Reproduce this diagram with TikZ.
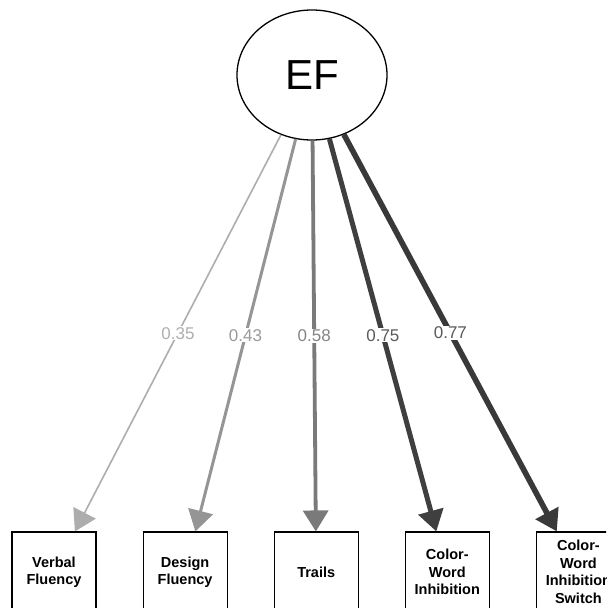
\documentclass[tikz,border=0pt]{standalone}
\usepackage{fontspec}
\setmainfont{Liberation Sans}
\usetikzlibrary{positioning, arrows.meta, shapes.geometric}

\definecolor{lvA}{HTML}{ADADAD}
\definecolor{lvB}{HTML}{959595}
\definecolor{lvC}{HTML}{7A7A7A}
\definecolor{lvD}{HTML}{3F3F3F}
\definecolor{lvE}{HTML}{393939}
\definecolor{txA}{HTML}{AFAFAF}
\definecolor{txB}{HTML}{9A9A9A}
\definecolor{txC}{HTML}{858585}
\definecolor{txD}{HTML}{5A5A5A}
\definecolor{txE}{HTML}{5A5A5A}

\begin{document}
\begin{tikzpicture}[
    x=1pt, y=-1pt,
    node distance=0pt and 46pt,
    latent/.style={
      draw, ellipse, line width=1.3pt, minimum width=150pt, minimum height=130pt,
      inner sep=0pt, font=\fontsize{42}{46}\selectfont
    },
    indicator/.style={
      draw, line width=1.1pt, minimum width=84pt, minimum height=80pt,
      inner sep=0pt, align=center, font=\fontsize{14.5}{17.5}\selectfont\bfseries
    },
    loading/.style={-{Triangle[length=21pt, width=25pt]}},
    weight/.style={fill=white, inner sep=1pt, pos=0.5, font=\fontsize{17}{19}\selectfont}
]
\clip (0,0) rectangle (606,608);

% Latent factor
\node[latent] (ef) at (312,75) {EF};

% Indicators
\node[indicator] (vf) at (54,572) {Verbal\\Fluency};
\node[indicator, right=of vf] (df) {Design\\Fluency};
\node[indicator, right=of df] (tr) {Trails};
\node[indicator, right=of tr] (cwi) {Color-\\Word\\Inhibition};
\node[indicator, right=of cwi] (cwis) {Color-\\Word\\Inhibition\\Switch};

% Loadings
\draw[loading, lvA, line width=1.6pt] (ef) -- node[weight, text=txA] {0.35} (vf);
\draw[loading, lvB, line width=3pt] (ef) -- node[weight, text=txB] {0.43} (df);
\draw[loading, lvC, line width=3.8pt] (ef) -- node[weight, text=txC] {0.58} (tr);
\draw[loading, lvD, line width=5pt] (ef) -- node[weight, text=txD] {0.75} (cwi);
\draw[loading, lvE, line width=5.6pt] (ef) -- node[weight, text=txE] {0.77} (cwis);

\end{tikzpicture}
\end{document}
